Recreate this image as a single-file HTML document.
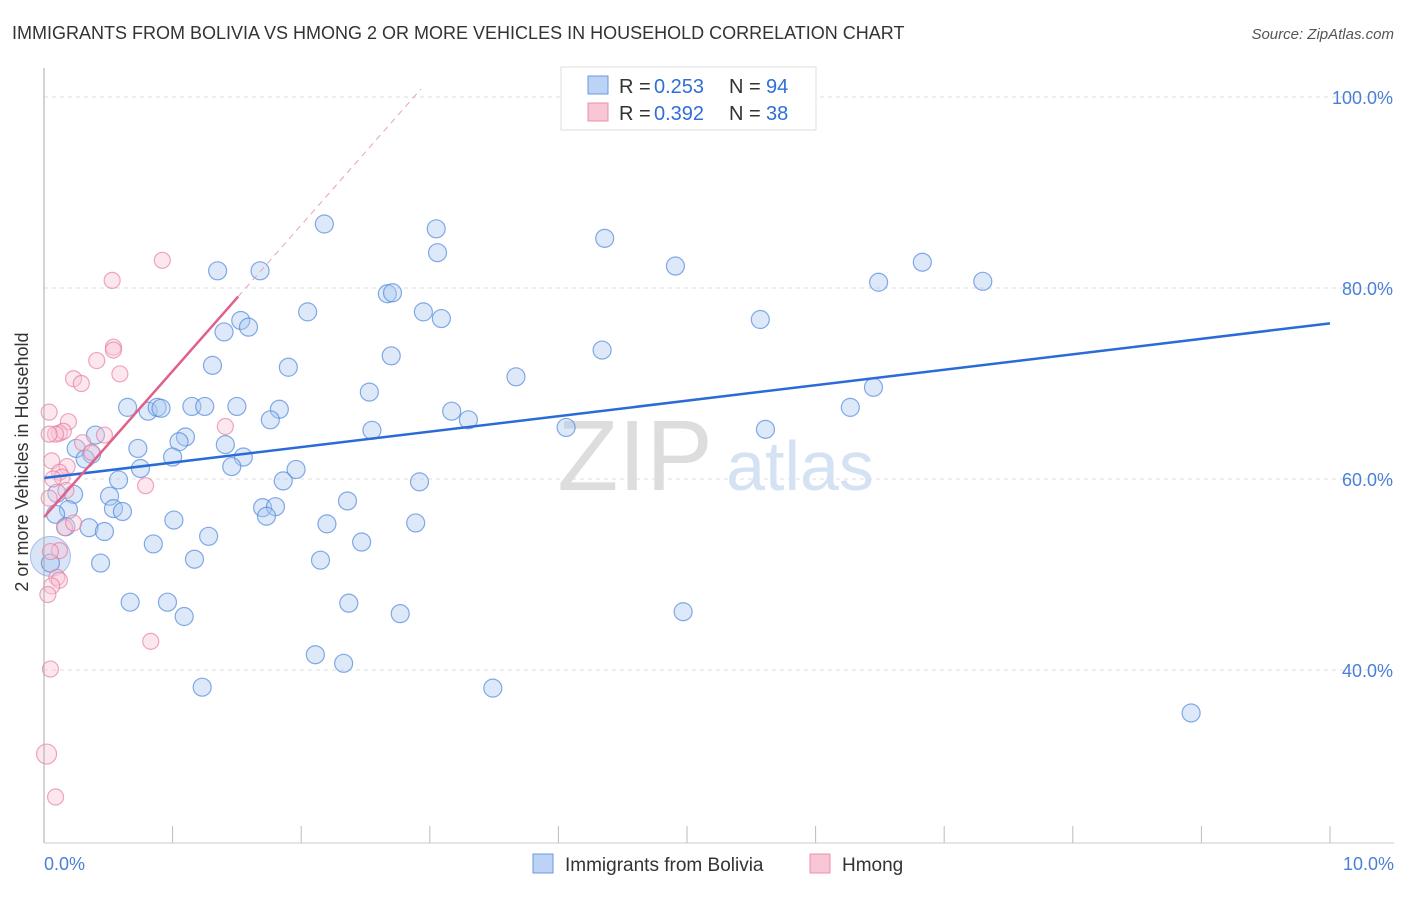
<!DOCTYPE html>
<html><head><meta charset="utf-8"><style>
body{margin:0;background:#fff;font-family:"Liberation Sans",sans-serif;}
svg text{font-family:"Liberation Sans",sans-serif;}
</style></head><body>
<svg id="chart" width="1406" height="892">
<text x="12" y="39" font-size="18" fill="#333">IMMIGRANTS FROM BOLIVIA VS HMONG 2 OR MORE VEHICLES IN HOUSEHOLD CORRELATION CHART</text>
<text x="1394" y="39" font-size="15" fill="#555" text-anchor="end" font-style="italic">Source: ZipAtlas.com</text>
<g id="grid"></g>
<text x="635" y="490" font-size="100" fill="#ddd" text-anchor="middle" font-family="Liberation Serif">ZIP</text>
<text x="800" y="490" font-size="70" fill="#d4e2f3" text-anchor="middle">atlas</text>
<g id="pts"></g>
<g id="lines"></g>
<line x1="44" y1="68" x2="44" y2="843" stroke="#aaa"/>
<line x1="44" y1="843" x2="1394" y2="843" stroke="#ccc"/>
<text x="22" y="456" font-size="18" fill="#333" text-anchor="middle" transform="rotate(-90 28 456)">2 or more Vehicles in Household</text>
<text x="44" y="870" font-size="18" fill="#4a7fd6">0.0%</text>
<text x="1394" y="870" font-size="18" fill="#4a7fd6" text-anchor="end">10.0%</text>
<g>
<rect x="561" y="67" width="255" height="63" fill="#fff" stroke="#ddd"/>
<rect x="588" y="76" width="20" height="18" fill="#bcd3f5" stroke="#6a9ae0"/>
<rect x="588" y="103" width="20" height="18" fill="#f9c6d5" stroke="#e890aa"/>
<text y="93" font-size="20" fill="#333"><tspan x="619">R =</tspan><tspan x="654" fill="#2f6fd6">0.253</tspan><tspan x="729">N =</tspan><tspan x="766" fill="#2f6fd6">94</tspan></text>
<text y="120" font-size="20" fill="#333"><tspan x="619">R =</tspan><tspan x="654" fill="#2f6fd6">0.392</tspan><tspan x="729">N =</tspan><tspan x="766" fill="#2f6fd6">38</tspan></text>
</g>
<g>
<rect x="533" y="854" width="20" height="19" fill="#bcd3f5" stroke="#6a9ae0"/>
<text x="565" y="871" font-size="19" fill="#333">Immigrants from Bolivia</text>
<rect x="810" y="854" width="20" height="19" fill="#f9c6d5" stroke="#e890aa"/>
<text x="842" y="871" font-size="19" fill="#333">Hmong</text>
</g>
</svg>
<script>
const yTicks=[40,60,80,100];
const xTicks=[0,1,2,3,4,5,6,7,8,9,10];
const blueX=[2.18,3.05,4.36,3.06,1.35,1.68,4.91,6.83,6.49,7.3,2.67,2.71,2.05,2.95,3.09,1.53,1.59,1.4,5.57,2.7,4.34,1.31,1.9,3.67,2.53,6.45,0.65,0.81,0.88,0.91,1.15,1.25,1.5,1.83,1.76,3.17,3.3,6.27,2.55,4.06,5.61,0.4,1.1,1.05,0.73,1.41,1.55,0.25,0.37,0.32,1.0,1.46,0.75,1.96,0.58,1.86,2.92,0.1,0.51,0.23,2.36,1.7,1.8,0.54,0.61,0.19,1.73,0.09,1.01,2.2,2.89,0.17,0.35,0.47,1.28,0.85,2.47,2.15,1.17,0.44,0.05,0.67,0.96,2.37,2.77,1.09,4.97,2.11,2.33,1.23,3.49,8.92];
const blueY=[86.7,86.2,85.2,83.7,81.8,81.8,82.3,82.7,80.6,80.7,79.4,79.5,77.5,77.5,76.8,76.6,75.9,75.4,76.7,72.9,73.5,71.9,71.7,70.7,69.1,69.6,67.5,67.1,67.5,67.4,67.6,67.6,67.6,67.3,66.2,67.1,66.2,67.5,65.1,65.4,65.2,64.6,64.4,63.9,63.2,63.6,62.3,63.2,62.6,62.1,62.3,61.3,61.1,61,59.9,59.8,59.7,58.5,58.2,58.4,57.7,57,57.1,56.9,56.6,56.8,56.1,56.3,55.7,55.3,55.4,55,54.9,54.5,54,53.2,53.4,51.5,51.6,51.2,51.2,47.1,47.1,47,45.9,45.6,46.1,41.6,40.7,38.2,38.1,35.5];
const pinkX=[0.92,0.53,0.54,0.54,0.41,0.59,0.23,0.29,0.04,0.19,0.12,0.15,0.09,0.04,0.47,1.41,0.3,0.37,0.06,0.18,0.12,0.14,0.07,0.79,0.17,0.04,0.16,0.23,0.12,0.1,0.12,0.06,0.03,0.83,0.05,0.02,0.09,0.05];
const pinkY=[82.9,80.8,73.8,73.5,72.4,71,70.5,70,67,66,64.8,65,64.7,64.7,64.6,65.5,63.8,62.8,61.9,61.3,60.7,60.2,60,59.3,58.8,58,54.9,55.4,52.5,49.7,49.4,48.8,47.9,43,40.1,31.2,26.7,52.4];
const blueTrend=[0,60.1,10,76.3];
const pinkTrend=[0,56.0,1.51,79.1];
const X=v=>44+v*128.6, Y=v=>479-(v-60)*9.55;
const NS='http://www.w3.org/2000/svg';
const mk=(t,a,p)=>{const e=document.createElementNS(NS,t);for(const k in a)e.setAttribute(k,a[k]);document.getElementById(p).appendChild(e);return e;};
yTicks.forEach(t=>{
 const l=mk('line',{x1:44,x2:1394,y1:Y(t),y2:Y(t),stroke:'#ddd','stroke-dasharray':'4,4'},'grid');
 
 
 const tx=mk('text',{x:1393,y:Y(t)+7,'font-size':18,fill:'#4a7fd6','text-anchor':'end'},'grid');
 tx.textContent=t.toFixed(1)+'%';
 
 
});
xTicks.forEach(t=>{
 const l=mk('line',{x1:X(t),x2:X(t),y1:826,y2:843,stroke:'#bbb'},'grid');
 
 
});
const big=mk('circle',{cx:X(0.05),cy:Y(51.9),r:20,fill:'rgba(160,190,235,0.4)',stroke:'rgba(90,140,220,0.5)'},'pts');


blueX.forEach((x,i)=>{
 const c=mk('circle',{cx:X(x),cy:Y(blueY[i]),r:9,fill:'rgba(170,200,240,0.4)',stroke:'rgba(80,135,220,0.7)','stroke-width':1.2},'pts');
 
 
});
pinkX.forEach((x,i)=>{
 const c=mk('circle',{cx:X(x),cy:Y(pinkY[i]),r:i==35?10:8,fill:'rgba(248,195,212,0.4)',stroke:'rgba(230,120,155,0.65)','stroke-width':1.2},'pts');
 
 
});
let b=mk('line',{x1:X(blueTrend[0]),y1:Y(blueTrend[1]),x2:X(blueTrend[2]),y2:Y(blueTrend[3]),stroke:'#2a6bd6','stroke-width':2.5},'lines');


const slope=(pinkTrend[3]-pinkTrend[1])/(pinkTrend[2]-pinkTrend[0]);
let pd=mk('line',{x1:X(pinkTrend[2]),y1:Y(pinkTrend[3]),x2:X(2.93),y2:Y(pinkTrend[1]+slope*2.93),stroke:'#e8a0b8','stroke-width':1,'stroke-dasharray':'6,5'},'lines');


let p=mk('line',{x1:X(pinkTrend[0]),y1:Y(pinkTrend[1]),x2:X(pinkTrend[2]),y2:Y(pinkTrend[3]),stroke:'#e0608a','stroke-width':2.5},'lines');


</script>
</body></html>
